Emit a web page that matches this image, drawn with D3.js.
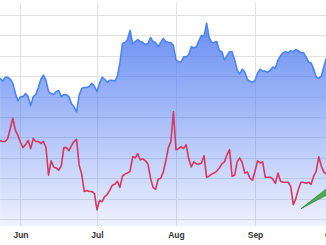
<!DOCTYPE html>
<html lang="en">
  <head>
    <meta charset="UTF-8" />
    <title>D3 area + line chart</title>
    <script src="https://cdn.jsdelivr.net/npm/d3@7"></script>
    <style>
      html, body { margin: 0; padding: 0; background: #fff; }
      svg { display: block; font-family: "Liberation Sans", Arial, sans-serif; }
    </style>
  </head>
  <body>
    <svg id="chart"></svg>
    <script>
      // daily series starting on this date
      const startDate = "2023-05-24";

      const blueValues = [
        138, 135, 139, 139, 137, 133, 123, 116, 120, 120,
        123, 120, 111, 120, 122, 129, 137, 141, 136, 125,
        123, 122, 125, 126, 120, 122, 122, 120, 113, 110,
        105, 121, 128, 129, 129, 130, 133, 130, 125, 133,
        139, 137, 134, 136, 136, 135, 140, 153, 172, 173,
        176, 185, 172, 174, 176, 174, 173, 171, 172, 178,
        174, 173, 169, 173, 177, 174, 173, 173, 170, 156,
        154, 154, 159, 159, 161, 169, 168, 169, 175, 180,
        179, 192, 178, 173, 173, 174, 165, 164, 156, 160,
        164, 164, 156, 146, 142, 147, 144, 137, 135, 134,
        136, 143, 147, 145, 145, 144, 146, 149, 148, 156,
        160, 163, 164, 163, 165, 164, 166, 165, 163, 163,
        159, 154, 153, 147, 139, 138, 140, 149, 158
      ];

      const redValues = [
        77, 76, 76, 79, 89, 99, 87, 82, 75, 70,
        73, 77, 69, 79, 76, 76, 74, 76, 70, 43,
        57, 51, 50, 48, 52, 70, 70, 67, 72, 76,
        78, 53, 44, 27, 28, 27, 27, 25, 9, 18,
        17, 22, 24, 28, 33, 34, 37, 31, 42, 44,
        45, 47, 61, 60, 64, 58, 59, 57, 54, 40,
        31, 29, 39, 40, 46, 57, 70, 76, 105, 68,
        69, 71, 69, 73, 59, 51, 56, 54, 54, 55,
        62, 41, 42, 44, 45, 47, 50, 54, 56, 63,
        68, 42, 43, 56, 60, 55, 45, 46, 40, 38,
        47, 57, 55, 56, 41, 41, 41, 39, 35, 45,
        37, 36, 36, 36, 32, 14, 20, 29, 36, 36,
        35, 36, 34, 42, 47, 61, 52, 46, 44
      ];

      // green band: dates with low / high values
      const greenDates = ["2023-09-19", "2023-09-29", "2023-10-02"];
      const greenLow = [10, 23.5, 27];
      const greenHigh = [10, 29.5, 35];

      const monthTicks = ["2023-06-01", "2023-07-01", "2023-08-01", "2023-09-01", "2023-10-01"];
      const monthLabels = ["Jun", "Jul", "Aug", "Sep", "Oct"];

      const width = 326, height = 245;
      const plot = { left: 0, right: 326, top: 3, bottom: 226 };

      const parse = d3.timeParse("%Y-%m-%d");
      const start = parse(startDate);
      const blue = blueValues.map((v, i) => ({ date: d3.timeDay.offset(start, i), v }));
      const red = redValues.map((v, i) => ({ date: d3.timeDay.offset(start, i), v }));
      const green = greenDates.map((d, i) => ({ date: parse(d), lo: greenLow[i], hi: greenHigh[i] }));

      const x = d3.scaleTime()
        .domain([start, d3.timeDay.offset(start, blueValues.length - 1)])
        .range([0.1, 326.4]);

      const y = d3.scaleLinear()
        .domain([-6.86, 211.8])
        .range([plot.bottom, plot.top]);

      const svg = d3.select("#chart").attr("width", width).attr("height", height);

      const defs = svg.append("defs");
      defs.append("clipPath").attr("id", "clip")
        .append("rect")
        .attr("x", plot.left).attr("y", plot.top)
        .attr("width", plot.right - plot.left).attr("height", plot.bottom - plot.top);

      const grad = defs.append("linearGradient")
        .attr("id", "blueFill")
        .attr("gradientUnits", "userSpaceOnUse")
        .attr("x1", 0).attr("x2", 0)
        .attr("y1", plot.top).attr("y2", plot.bottom);
      grad.append("stop").attr("offset", 0).attr("stop-color", "#4673f0").attr("stop-opacity", 0.88);
      grad.append("stop").attr("offset", 1).attr("stop-color", "#4673f0").attr("stop-opacity", 0.09);

      // grid
      const grid = svg.append("g");
      grid.selectAll("line.h")
        .data(y.ticks(10))
        .join("line")
        .attr("class", "h")
        .attr("x1", plot.left).attr("x2", plot.right)
        .attr("y1", d => Math.round(y(d)) + 0.5).attr("y2", d => Math.round(y(d)) + 0.5)
        .attr("stroke", "#e2e2e2");
      grid.selectAll("line.v")
        .data(monthTicks.map(parse))
        .join("line")
        .attr("class", "v")
        .attr("x1", d => Math.round(x(d)) + 0.5).attr("x2", d => Math.round(x(d)) + 0.5)
        .attr("y1", plot.top).attr("y2", plot.bottom)
        .attr("stroke", "#e2e2e2");

      const g = svg.append("g").attr("clip-path", "url(#clip)");

      const area = d3.area()
        .x(d => x(d.date))
        .y0(plot.bottom)
        .y1(d => y(d.v));
      const line = d3.line()
        .x(d => x(d.date))
        .y(d => y(d.v));

      g.append("path")
        .datum(blue)
        .attr("d", area)
        .attr("fill", "url(#blueFill)");
      g.append("path")
        .datum(blue)
        .attr("d", line)
        .attr("fill", "none")
        .attr("stroke", "#4a84f0")
        .attr("stroke-width", 1.6)
        .attr("stroke-linejoin", "round");

      g.append("path")
        .datum(red)
        .attr("d", line)
        .attr("fill", "none")
        .attr("stroke", "#d8365d")
        .attr("stroke-width", 1.6)
        .attr("stroke-linejoin", "round");

      g.append("path")
        .datum(green)
        .attr("d", d3.area().x(d => x(d.date)).y0(d => y(d.lo)).y1(d => y(d.hi)))
        .attr("fill", "#4caf50")
        .attr("stroke", "#2e7d32")
        .attr("stroke-width", 0.8);

      // x axis labels
      const xAxis = d3.axisBottom(x)
        .tickValues(monthTicks.map(parse))
        .tickFormat((d, i) => monthLabels[i])
        .tickSize(0)
        .tickPadding(6);
      const ax = svg.append("g")
        .attr("transform", `translate(0,${plot.bottom})`)
        .call(xAxis);
      ax.select(".domain").remove();
      ax.selectAll("text")
        .attr("font-size", 8.5)
        .attr("font-weight", 600)
        .attr("fill", "#333");
    </script>
  </body>
</html>
